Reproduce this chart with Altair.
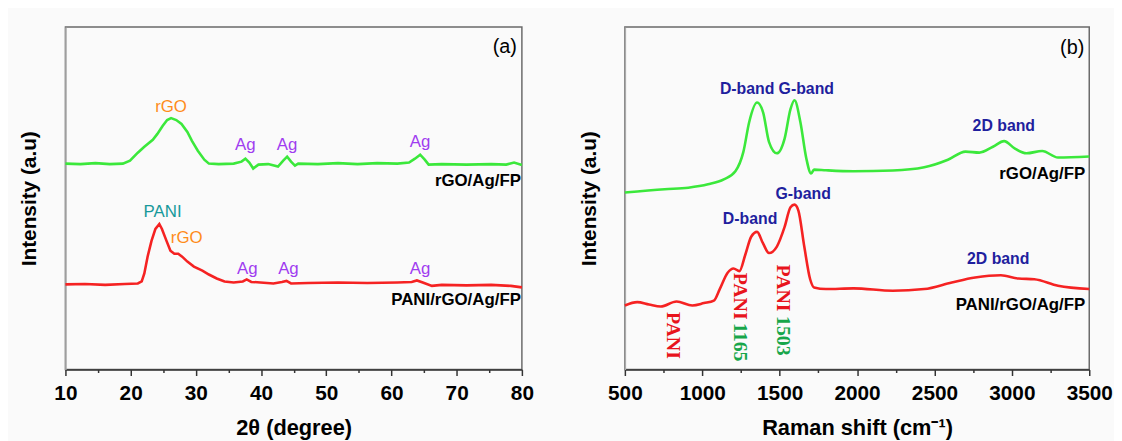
import altair as alt
import pandas as pd

FONT = "Liberation Sans"
SERIF = "Liberation Serif"

# ---------------- Panel (a): XRD ----------------
xrd_theta_green = [10.0, 12.3, 14.6, 16.8, 18.8, 19.9, 21.1, 22.1, 23.4, 24.1, 24.9, 25.6, 26.2, 27.0,
                   27.8, 28.7, 29.4, 30.3, 31.3, 32.0, 33.5, 35.8, 37.0, 37.6, 38.2, 38.8, 39.6, 41.1,
                   42.6, 43.4, 44.0, 44.6, 45.2, 45.7, 48.7, 51.8, 54.8, 57.8, 60.9, 62.7, 63.6, 64.4,
                   65.1, 65.7, 67.7, 71.5, 75.3, 77.6, 78.8, 80.0]
xrd_int_green = [208, 207.5, 208.5, 207.5, 208, 211, 219, 225, 232, 238, 246, 252, 254, 252,
                 248, 240, 231, 221, 212, 208, 207.5, 208, 210, 213, 209, 203, 207, 207.5,
                 205, 211, 215, 210, 206, 208, 207.5, 208.5, 207.5, 208.5, 208, 209, 213, 217,
                 212, 207, 207.5, 207, 207.5, 207, 209, 206.5]

xrd_theta_red = [10.0, 13.0, 16.1, 19.1, 21.1, 21.7, 22.1, 22.6, 23.2, 23.8, 24.4, 24.8, 25.5, 26.1,
                 26.7, 27.3, 27.9, 28.7, 29.7, 31.0, 32.0, 33.2, 34.4, 35.8, 37.2, 37.8, 38.5, 39.9,
                 41.9, 43.2, 43.9, 44.6, 47.2, 51.8, 56.3, 60.9, 63.1, 63.9, 64.8, 66.2, 67.7, 71.5,
                 75.3, 78.3, 80.0]
xrd_int_red = [86, 86.5, 85.5, 86.5, 87, 89, 97, 114, 130, 142, 147, 142, 130, 120,
               117, 117, 114, 109, 104, 100, 96, 92, 89, 88, 89, 91, 88.5, 88,
               87, 88.5, 89.5, 87, 87.5, 88, 87.5, 88, 88.5, 90, 88, 84.5, 85.5, 85,
               85.5, 84.5, 83]

a_peak_text = ["rGO", "Ag", "Ag", "Ag", "PANI", "rGO", "Ag", "Ag", "Ag"]
a_peak_x = [26.2, 37.6, 44.0, 64.4, 24.9, 28.6, 37.9, 44.2, 64.4]
a_peak_y = [265, 227, 227, 230, 159, 133, 102, 102, 102]
a_peak_color = ["#ff8c1a", "#a03cf0", "#a03cf0", "#a03cf0", "#17999a", "#ff8c1a",
                "#a03cf0", "#a03cf0", "#a03cf0"]
a_sample_text = ["rGO/Ag/FP", "PANI/rGO/Ag/FP"]
a_sample_y = [190, 70]

# ---------------- Panel (b): Raman ----------------
raman_shift_green = [500, 757, 910, 1037, 1139, 1214, 1266, 1303, 1354, 1393, 1431, 1482, 1532, 1570,
                     1596, 1634, 1672, 1703, 1722, 1799, 1977, 2231, 2434, 2587, 2701, 2790, 2878,
                     2950, 3018, 3095, 3196, 3298, 3500]
raman_int_green = [180.3, 183.7, 185.3, 188.7, 193.7, 202, 222, 252, 272, 262, 232, 220.3, 235.3, 265.3,
                   274.3, 252, 215.3, 199.7, 203.7, 203, 202, 202.7, 206, 213.7, 222, 221, 227,
                   232.7, 225.3, 220.3, 222.7, 216, 217]

raman_shift_red = [500, 580, 656, 732, 834, 936, 1011, 1075, 1113, 1164, 1202, 1240, 1278, 1316,
                   1354, 1392, 1431, 1482, 1532, 1570, 1596, 1621, 1659, 1697, 1722, 1799, 1977,
                   2231, 2434, 2612, 2763, 2929, 3043, 3145, 3298, 3500]
raman_int_red = [65.3, 68.7, 66.3, 64.3, 69.3, 65.3, 67.7, 70.3, 82, 98.7, 103, 100.3, 117, 135.3,
                 140.3, 128.7, 118.7, 125.3, 145.3, 165.3, 168, 162, 125.3, 92, 83.7, 82, 82.7,
                 80.3, 82, 88.7, 93.7, 96, 92.7, 92, 85.3, 82]

b_band_text = ["D-band", "G-band", "2D band", "D-band", "G-band", "2D band"]
b_band_x = [1290, 1672, 2948, 1309, 1652, 2912]
b_band_y = [285.3, 286, 248, 153.7, 179.3, 112.7]
b_sample_text = ["rGO/Ag/FP", "PANI/rGO/Ag/FP"]
b_sample_y = [199.3, 66]

b_rot_text = ["PANI", "PANI", "1165", "PANI", "1503"]
b_rot_x = [808, 1245, 1245, 1519, 1519]
b_rot_y = [58.7, 98.7, 47.5, 107, 54.5]
b_rot_color = ["#e8141c", "#e8141c", "#17a64a", "#e8141c", "#17a64a"]

GREEN = "#3be83b"
RED = "#f52222"
BLUE = "#1f1f9e"


def make_axes(xvals, major, xtitle):
    xaxis = alt.Axis(
        values=xvals, format="d",
        labelExpr=f"datum.value % {major} === 0 ? datum.label : ''",
        tickSize={"condition": {"test": f"datum.value % {major} === 0", "value": 6}, "value": 3},
        title=xtitle, grid=False, domainColor="#333", tickColor="#333",
        domainWidth=1.5, tickWidth=1.5, labelFont=FONT, labelFontSize=21,
        labelFontWeight="bold", labelColor="black", labelPadding=7,
        labelFlush=False, labelOverlap=False,
        titleFont=FONT, titleFontSize=22, titleFontWeight="bold",
        titleColor="black", titlePadding=15)
    yaxis = alt.Axis(
        title="Intensity (a.u)", ticks=False, labels=False, grid=False,
        domainColor="#aaa", domainWidth=1.5, titleFont=FONT, titleFontSize=21,
        titleFontWeight="bold", titleColor="black", titlePadding=26)
    return xaxis, yaxis


def panel(xs_g, ys_g, xs_r, ys_r, xdom, ydom, xvals, major, xtitle, interp,
          extra_layers_fn, sample_text, sample_y, tag, tag_y, sample_dx, width):
    xaxis, yaxis = make_axes(xvals, major, xtitle)
    xs = alt.Scale(domain=xdom, nice=False, zero=False)
    ys = alt.Scale(domain=ydom, nice=False, zero=False)

    def X():
        return alt.X("x:Q", scale=xs, axis=xaxis)

    def Y():
        return alt.Y("y:Q", scale=ys, axis=yaxis)

    g = alt.Chart(pd.DataFrame({"x": xs_g, "y": ys_g})).mark_line(
        color=GREEN, strokeWidth=2.6, interpolate=interp).encode(x=X(), y=Y())
    r = alt.Chart(pd.DataFrame({"x": xs_r, "y": ys_r})).mark_line(
        color=RED, strokeWidth=2.6, interpolate=interp).encode(x=X(), y=Y())

    samp = alt.Chart(pd.DataFrame({"x": [xdom[1]] * len(sample_text), "y": sample_y,
                                   "t": sample_text})).mark_text(
        font=FONT, fontSize=17, fontWeight="bold", align="right", baseline="middle",
        color="black", dx=sample_dx).encode(x=X(), y=Y(), text="t:N")
    tg = alt.Chart(pd.DataFrame({"x": [xdom[1]], "y": [tag_y], "t": [tag]})).mark_text(
        font=FONT, fontSize=20, align="right", baseline="middle", color="black",
        dx=-5).encode(x=X(), y=Y(), text="t:N")

    layers = [g, r, samp, tg] + extra_layers_fn(X, Y)
    return alt.layer(*layers).properties(width=width, height=346)


def a_extra(X, Y):
    df = pd.DataFrame({"x": a_peak_x, "y": a_peak_y, "t": a_peak_text, "c": a_peak_color})
    return [alt.Chart(df).mark_text(font=FONT, fontSize=17, align="center",
                                    baseline="middle").encode(
        x=X(), y=Y(), text="t:N", color=alt.Color("c:N", scale=None))]


def b_extra(X, Y):
    df = pd.DataFrame({"x": b_band_x, "y": b_band_y, "t": b_band_text})
    bands = alt.Chart(df).mark_text(font=FONT, fontSize=16, fontWeight="bold",
                                    align="center", baseline="middle", color=BLUE).encode(
        x=X(), y=Y(), text="t:N")
    df2 = pd.DataFrame({"x": b_rot_x, "y": b_rot_y, "t": b_rot_text, "c": b_rot_color})
    rot = alt.Chart(df2).mark_text(font=SERIF, fontSize=20, fontWeight="bold",
                                   align="left", baseline="middle", angle=90).encode(
        x=X(), y=Y(), text="t:N", color=alt.Color("c:N", scale=None))
    return [bands, rot]


pa = panel(xrd_theta_green, xrd_int_green, xrd_theta_red, xrd_int_red,
           [10, 80], [0, 346], list(range(10, 81, 5)), 10, "2θ (degree)", "linear",
           a_extra, a_sample_text, a_sample_y, "(a)", 326, -1, 461)
pb = panel(raman_shift_green, raman_int_green, raman_shift_red, raman_int_red,
           [500, 3500], [0, 349], list(range(500, 3501, 250)), 500, "Raman shift (cm⁻¹)",
           "monotone", b_extra, b_sample_text, b_sample_y, "(b)", 328, -4, 469)

chart = alt.hconcat(pa, pb, spacing=43).properties(
    padding={"left": 10, "top": 16, "right": 0, "bottom": 0},
    background="#fafafa",
).configure_view(stroke="#6a6a6a", strokeWidth=1.5)

chart.save("out.html", embed_options={"renderer": "svg", "actions": False})
